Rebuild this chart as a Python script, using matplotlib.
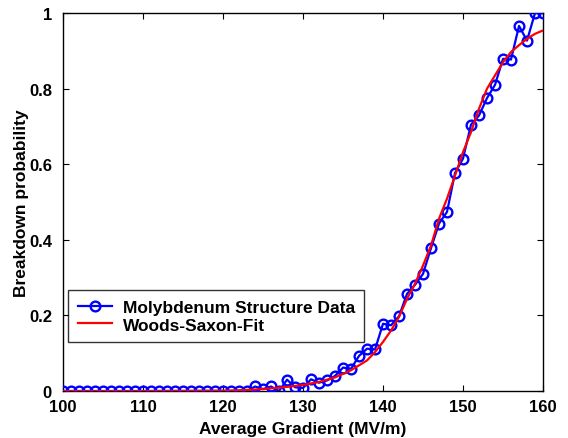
import matplotlib.pyplot as plt
import numpy as np

plt.rcParams['font.family'] = ['Liberation Sans', 'DejaVu Sans']
plt.rcParams['font.weight'] = 'bold'

# measured breakdown probability, one point per MV/m from 100 to 160
gradient = list(range(100, 161))
prob_data = [0.0] * 24 + [
    0.012, 0.005, 0.012, 0.0, 0.03, 0.01, 0.008, 0.031, 0.022, 0.028,
    0.04, 0.062, 0.059, 0.093, 0.112, 0.110, 0.178, 0.174, 0.198, 0.257,
    0.281, 0.310, 0.378, 0.443, 0.474, 0.577, 0.615, 0.705, 0.729, 0.775,
    0.81, 0.879, 0.877, 0.966, 0.927, 1.0, 1.0,
]

# Woods-Saxon fit curve
fit_x = [100, 110, 120, 122, 124, 126, 128, 130, 132, 134, 136, 138, 139, 140,
         141, 142, 143, 144, 145, 146, 147, 148, 149, 150, 151, 152, 153, 154,
         155, 156, 157, 158, 159, 160]
fit_y = [0.0, 0.0, 0.001, 0.002, 0.004, 0.007, 0.011, 0.016, 0.024, 0.036,
         0.055, 0.081, 0.103, 0.13, 0.16, 0.196, 0.244, 0.284, 0.332, 0.385,
         0.456, 0.509, 0.57, 0.632, 0.685, 0.747, 0.8, 0.835, 0.87, 0.897,
         0.915, 0.932, 0.945, 0.954]


def main():
    fig = plt.figure(figsize=(5.68, 4.39), dpi=100)
    ax = fig.add_axes([0.111, 0.107, 0.845, 0.861])

    ax.plot(gradient, prob_data, color='blue', lw=1.6, marker='o', ms=7,
            mfc='none', mew=1.7, label='Molybdenum Structure Data', zorder=3)
    ax.plot(fit_x, fit_y, color='red', lw=1.6, label='Woods-Saxon-Fit', zorder=4)

    ax.set_xlim(100, 160)
    ax.set_ylim(0, 1)
    ax.set_xticks(np.arange(100, 161, 10))
    ax.set_yticks([0, 0.2, 0.4, 0.6, 0.8, 1])
    ax.set_yticklabels(['0', '0.2', '0.4', '0.6', '0.8', '1'])
    ax.tick_params(direction='in', length=4, labelsize=12, top=True, right=True)
    ax.tick_params(axis='x', pad=5.5)
    ax.tick_params(axis='y', pad=8)
    for lab in ax.get_xticklabels() + ax.get_yticklabels():
        lab.set_fontweight('bold')
    for sp in ax.spines.values():
        sp.set_linewidth(1.0)

    ax.set_xlabel('Average Gradient (MV/m)', fontsize=12.5, fontweight='bold', labelpad=5)
    ax.set_ylabel('Breakdown probability', fontsize=12.5, fontweight='bold', labelpad=0)

    leg = ax.legend(loc='upper left', bbox_to_anchor=(0.0104, 0.267), borderaxespad=0,
                    fontsize=12.5, frameon=True, fancybox=False, edgecolor='black',
                    handlelength=2.0, handletextpad=0.6, borderpad=0.55,
                    labelspacing=0.15)
    leg.get_frame().set_linewidth(1.0)
    for t in leg.get_texts():
        t.set_fontweight('bold')

    fig.savefig('out.png', dpi=100)


if __name__ == "__main__":
    main()
